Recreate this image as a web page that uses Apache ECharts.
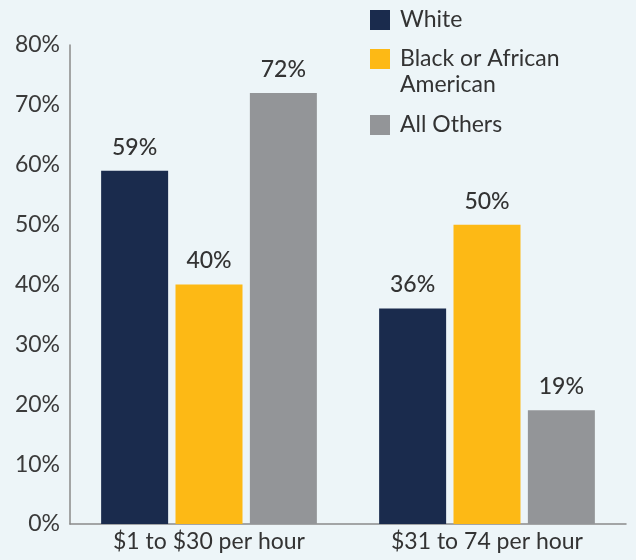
<!DOCTYPE html>
<html>
<head>
<meta charset="utf-8">
<style>
  html, body { margin: 0; padding: 0; background: #edf5f8; }
  #chart { width: 636px; height: 560px; }
</style>
<script src="https://cdn.jsdelivr.net/npm/echarts@6/dist/echarts.min.js"></script>
</head>
<body>
<div id="chart"></div>
<script>
  // wage bands and share of each group
  var categories = ['$1 to $30 per hour', '$31 to 74 per hour']
  var white = [59, 36]
  var black = [40, 50]
  var others = [72, 19]
  var seriesNames = ['White', 'Black or African American', 'All Others']
  var colors = ['#1a2b4d', '#fdb915', '#939598']

  var font = 'Lato, "Open Sans", sans-serif'
  var textColor = '#333333'

  function legendBox(name, top, fmt) {
    return {
      data: [name],
      left: 370,
      top: top,
      padding: 0,
      itemWidth: 20,
      itemHeight: 20,
      icon: 'rect',
      selectedMode: false,
      formatter: fmt || '{name}',
      textStyle: {
        fontFamily: font,
        fontSize: 23,
        color: textColor,
        lineHeight: 26,
        padding: [0, 0, 0, 5]
      }
    }
  }

  var chart = echarts.init(document.getElementById('chart'))
  chart.setOption({
    backgroundColor: '#edf5f8',
    animation: false,
    color: colors,
    legend: [
      legendBox(seriesNames[0], 7),
      legendBox(seriesNames[1], 20, '\nBlack or African\nAmerican'),
      legendBox(seriesNames[2], 112)
    ],
    grid: {
      left: 70,
      right: 10,
      top: 45,
      bottom: 36
    },
    xAxis: {
      type: 'category',
      data: categories,
      axisTick: { show: false },
      axisLine: { lineStyle: { color: '#8a8a8a', width: 1.5 } },
      axisLabel: {
        fontFamily: font,
        fontSize: 23,
        color: textColor,
        margin: 6
      }
    },
    yAxis: {
      type: 'value',
      min: 0,
      max: 80,
      interval: 10,
      splitLine: { show: false },
      axisTick: { show: false },
      axisLine: { show: true, lineStyle: { color: '#8a8a8a', width: 1.5 } },
      axisLabel: {
        formatter: '{value}%',
        fontFamily: font,
        fontSize: 23,
        color: '#3a3a3a',
        margin: 10
      }
    },
    series: [white, black, others].map(function (vals, i) {
      return {
        name: seriesNames[i],
        type: 'bar',
        data: vals,
        barWidth: 67,
        barGap: '11%',
        label: {
          show: true,
          position: 'top',
          distance: 12,
          formatter: '{c}%',
          fontFamily: font,
          fontSize: 23,
          fontWeight: 500,
          color: textColor
        }
      }
    })
  })
</script>
</body>
</html>
